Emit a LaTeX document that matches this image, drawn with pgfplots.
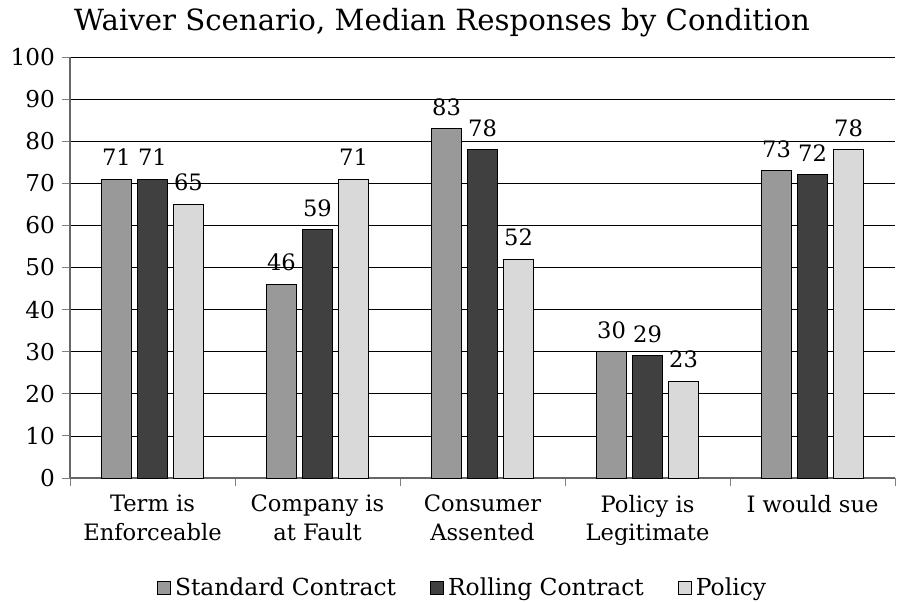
\documentclass[border=0pt]{standalone}
\usepackage{fontspec}
\setmainfont{DejaVu Serif}
\usepackage{pgfplots}
\pgfplotsset{compat=1.18}
\definecolor{cStd}{RGB}{153,153,153}
\definecolor{cRol}{RGB}{64,64,64}
\definecolor{cPol}{RGB}{217,217,217}
\begin{document}
\begin{tikzpicture}
\begin{axis}[name=ax, scale only axis, width=412.5pt, height=210.5pt,
  ybar=3pt, bar width=15pt,
  xmin=-0.5, xmax=4.5, ymin=0, ymax=100,
  ytick={0,10,...,100},
  xtick={-0.5,0.5,1.5,2.5,3.5,4.5}, xticklabels={},
  extra x ticks={0,1,2,3,4},
  extra x tick labels={{Term is\\Enforceable},{Company is\\at Fault},{Consumer\\Assented},{Policy is\\Legitimate},{I would sue}},
  extra x tick style={major tick length=0pt, tick label style={align=center, font=\fontsize{11.3}{14.2}\selectfont, yshift=-5pt}},
  tick align=outside, major tick length=4pt,
  tick style={gray, line width=0.5pt},
  axis x line*=bottom, axis y line*=left,
  axis line style={gray!80!black, line width=0.6pt},
  ymajorgrids, grid style={black, line width=0.4pt},
  /pgf/number format/assume math mode=true,
  yticklabel style={font=\fontsize{11.6}{13}\selectfont},
  nodes near coords,
  nodes near coords style={font=\fontsize{11.3}{13}\selectfont, black, yshift=3pt},
  legend image code/.code={\draw[#1, draw=black] (0pt,-3.25pt) rectangle (6.5pt,3.25pt);},
  legend style={at={(0.477,-0.2613)}, anchor=center, draw=none, legend columns=3,
    font=\fontsize{11.7}{13}\selectfont,
    /tikz/every even column/.append style={column sep=15pt},
    /tikz/every odd column/.append style={column sep=0pt}},
]
\addplot[fill=cStd, draw=black, line width=0.5pt] coordinates {(0,71) (1,46) (2,83) (3,30) (4,73)};
\addplot[fill=cRol, draw=black, line width=0.5pt] coordinates {(0,71) (1,59) (2,78) (3,29) (4,72)};
\addplot[fill=cPol, draw=black, line width=0.5pt] coordinates {(0,65) (1,71) (2,52) (3,23) (4,78)};
\legend{Standard Contract, Rolling Contract, Policy}
\end{axis}
\node[anchor=base, font=\fontsize{14.6}{16}\selectfont] at ([xshift=186pt, yshift=13.5pt]ax.north west) {Waiver Scenario, Median Responses by Condition};
\pgfresetboundingbox
\path ([xshift=-35pt, yshift=-61.5pt]ax.south west) rectangle ([xshift=1pt, yshift=28.5pt]ax.north east);
\end{tikzpicture}
\end{document}
